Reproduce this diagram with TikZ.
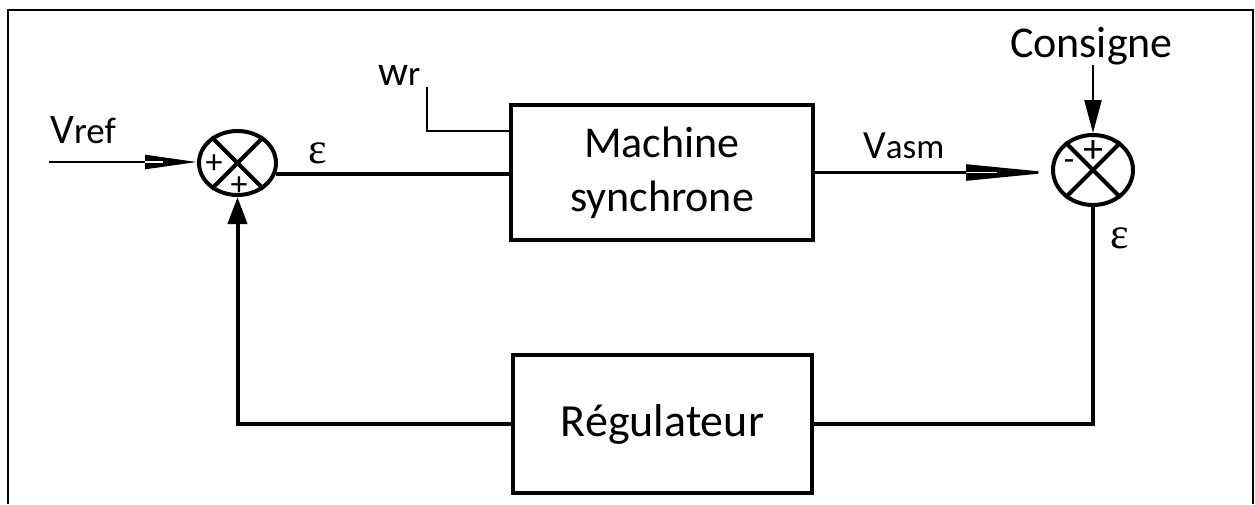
\documentclass[tikz,border=0pt]{standalone}
\usepackage{fontspec}
\setmainfont{Carlito}
\newfontfamily\grk{Liberation Serif}
\usetikzlibrary{arrows.meta,shapes.geometric}

\tikzset{
  heavy/.style={line width=4pt},
  light/.style={line width=2.4pt},
  sumjunction/.style={draw, ellipse, line width=4pt, inner sep=0pt},
  blockbox/.style={draw, rectangle, line width=4pt, inner sep=0pt, align=center},
  sign/.style={inner sep=0pt, font=\fontsize{34}{34}\selectfont},
  lbl/.style={inner sep=0pt},
  epsl/.style={inner sep=0pt, font=\grk\fontsize{44}{44}\selectfont},
  slit/.style={white, line width=1.2pt},
}

\begin{document}
\begin{tikzpicture}[x=1pt, y=-1pt]
\useasboundingbox (0,0) rectangle (1255,504);

% frame (open at the bottom)
\draw[line width=2.4pt] (8,504) -- (8,10) -- (1253,10) -- (1253,504);

% summing junctions
\node[sumjunction, minimum width=77pt, minimum height=64pt] (s1) at (237.5,163) {};
\node[sumjunction, minimum width=80pt, minimum height=70pt] (s2) at (1093,170) {};
\foreach \s in {s1,s2}{
  \draw[heavy] (\s.45) -- (\s.225);
  \draw[heavy] (\s.135) -- (\s.315);
}
\node[sign] (p1) at (214,164) {+};
\node[sign] (p2) at (239,186) {+};
\node[sign, font=\fontsize{40}{40}\selectfont] (p3) at (1093,151) {+};
\node[sign] (m3) at (1069,165) {-};

% blocks
\node[blockbox, minimum width=302pt, minimum height=135pt,
      font=\fontsize{44}{54}\selectfont] (m) at (662,172.5) {Machine\\synchrone};
\node[blockbox, minimum width=299pt, minimum height=138pt,
      font=\fontsize{46}{46}\selectfont] (reg) at (662.5,424) {Régulateur};

% labels
\node[lbl, anchor=base west] (vref) at (50,143)
  {{\fontsize{42}{42}\selectfont V}{\fontsize{37}{37}\selectfont ref}};
\node[lbl, anchor=base west] (wr) at (378,85)
  {{\fontsize{42}{42}\selectfont w}{\fontsize{35}{35}\selectfont r}};
\node[lbl, anchor=base west] (vasm) at (863,158)
  {{\fontsize{40}{40}\selectfont V}{\fontsize{35}{35}\selectfont asm}};
\node[lbl, anchor=base east, font=\fontsize{44}{44}\selectfont] (cons) at (1173,57) {Consigne};
\node[epsl] (e1) at (318,153) {ε};
\node[epsl] (e2) at (1120,238) {ε};

% connectors
\coordinate (vin) at (49,162);
\coordinate (vtip) at (vin -| s1.west);
\coordinate (atip) at (m.east -| s2.west);
\coordinate (wrc) at (427,87);
\draw[light, -{Triangle[length=52pt,width=14pt]}] (vin) -- (vtip);
\draw[slit] ([xshift=-52pt]vtip) -- ([xshift=-34pt]vtip);
\draw[heavy] (s1.-16) -- (s1.-16 -| m.west);
\draw[light] (wrc) |- ([yshift=41.5pt]m.west);
\draw[light, -{Triangle[length=85pt,width=16pt]}] (m.east) -- (atip);
\draw[slit] ([xshift=-85pt]atip) -- ([xshift=-54pt]atip);
\draw[light, -{Triangle[length=33pt,width=17pt]}] (s2.north |- cons.south) -- (s2.north);
\draw[heavy] (s2.south) |- (reg.east);
\draw[heavy, -{Triangle[length=27pt,width=19pt]}] (reg.west) -| (s1.south);
\end{tikzpicture}
\end{document}
